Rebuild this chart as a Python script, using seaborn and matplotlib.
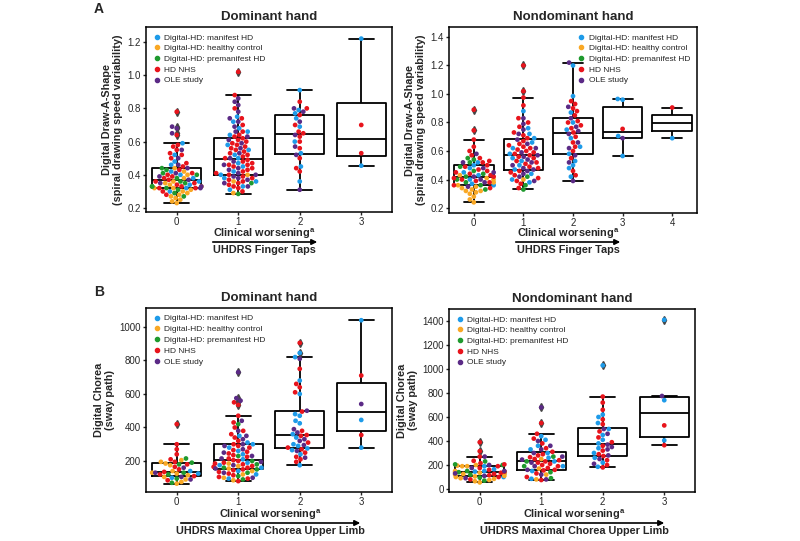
import matplotlib
matplotlib.use('Agg')
import matplotlib.pyplot as plt
from matplotlib.lines import Line2D
import seaborn as sns
import pandas as pd

sns.set_style('ticks')
plt.rcParams['font.family'] = ['Liberation Sans', 'DejaVu Sans']
plt.rcParams['mathtext.fontset'] = 'custom'
plt.rcParams['mathtext.bf'] = 'Liberation Sans:bold'

studies = ['Digital-HD: manifest HD', 'Digital-HD: healthy control',
           'Digital-HD: premanifest HD', 'HD NHS', 'OLE study']
colors = ['#1e9be9', '#f9a825', '#1f9a2e', '#e8141c', '#5b2a86']

# values per study, one list per clinical worsening score (0, 1, 2, ...)
# A: Draw-A-Shape, dominant hand
a_dom = {
    'Digital-HD: manifest HD': [
        [0.30, 0.32, 0.34, 0.36, 0.38, 0.40, 0.42, 0.46, 0.48, 0.52, 0.59],
        [0.31, 0.33, 0.36, 0.38, 0.40, 0.42, 0.45, 0.47, 0.50, 0.52, 0.55, 0.58, 0.64, 0.66, 0.68, 0.72, 0.75],
        [0.36, 0.45, 0.53, 0.60, 0.69, 0.74, 0.77, 0.79, 0.91],
        [1.22, 0.455]],
    'Digital-HD: healthy control': [
        [0.23, 0.24, 0.25, 0.26, 0.27, 0.28, 0.29, 0.30, 0.31, 0.32, 0.32, 0.33, 0.33, 0.34, 0.35, 0.36, 0.38, 0.40, 0.42, 0.44],
        [0.29, 0.36, 0.40], [], []],
    'Digital-HD: premanifest HD': [
        [0.27, 0.29, 0.31, 0.32, 0.33, 0.33, 0.35, 0.36, 0.38, 0.40, 0.41, 0.43, 0.44],
        [0.285, 0.35], [], []],
    'HD NHS': [
        [0.28, 0.30, 0.32, 0.32, 0.33, 0.34, 0.35, 0.36, 0.37, 0.38, 0.39, 0.40, 0.41, 0.43, 0.45, 0.47,
         0.50, 0.52, 0.53, 0.55, 0.57, 0.58, 0.64, 0.78],
        [0.30, 0.32, 0.33, 0.34, 0.35, 0.36, 0.37, 0.38, 0.39, 0.40, 0.41, 0.42, 0.43, 0.44, 0.45, 0.46,
         0.46, 0.47, 0.48, 0.49, 0.50, 0.51, 0.52, 0.53, 0.54, 0.55, 0.56, 0.57, 0.58, 0.59, 0.60, 0.61,
         0.62, 0.63, 0.64, 0.66, 0.70, 0.74, 0.80, 0.88, 1.02],
        [0.42, 0.44, 0.50, 0.56, 0.60, 0.63, 0.65, 0.66, 0.70, 0.76, 0.80, 0.84],
        [0.70, 0.53]],
    'OLE study': [
        [0.32, 0.33, 0.35, 0.37, 0.39, 0.41, 0.44, 0.46, 0.50, 0.55, 0.65, 0.68, 0.69],
        [0.33, 0.35, 0.37, 0.38, 0.39, 0.40, 0.41, 0.43, 0.44, 0.46, 0.48, 0.50, 0.53, 0.56, 0.59, 0.61,
         0.63, 0.66, 0.69, 0.72, 0.74, 0.78, 0.82, 0.84, 0.86],
        [0.31, 0.52, 0.57, 0.64, 0.72, 0.78, 0.80],
        []],
}

# A: Draw-A-Shape, nondominant hand
a_nondom = {
    'Digital-HD: manifest HD': [
        [0.36, 0.37, 0.40, 0.43, 0.45, 0.48, 0.50, 0.52],
        [0.38, 0.40, 0.44, 0.47, 0.50, 0.53, 0.55, 0.58, 0.62, 0.66, 0.69, 0.72, 0.76, 0.88],
        [0.42, 0.48, 0.50, 0.53, 0.58, 0.63, 0.69, 0.75, 0.80, 0.87, 0.985, 1.20],
        [0.965, 0.96, 0.705, 0.565],
        [0.69]],
    'Digital-HD: healthy control': [
        [0.24, 0.26, 0.28, 0.30, 0.31, 0.32, 0.32, 0.33, 0.34, 0.35, 0.36, 0.38, 0.40, 0.41, 0.43],
        [0.40], [], [], []],
    'Digital-HD: premanifest HD': [
        [0.33, 0.36, 0.38, 0.40, 0.42, 0.44, 0.46, 0.49, 0.52, 0.54, 0.55],
        [0.33, 0.36, 0.42], [], [], []],
    'HD NHS': [
        [0.34, 0.36, 0.38, 0.39, 0.40, 0.41, 0.42, 0.43, 0.44, 0.45, 0.46, 0.47, 0.49, 0.50, 0.52, 0.53,
         0.55, 0.57, 0.60, 0.63, 0.68, 0.745, 0.89],
        [0.34, 0.37, 0.39, 0.41, 0.43, 0.45, 0.46, 0.48, 0.49, 0.51, 0.52, 0.53, 0.55, 0.56, 0.57, 0.58,
         0.59, 0.60, 0.61, 0.62, 0.63, 0.64, 0.65, 0.67, 0.69, 0.71, 0.73, 0.77, 0.80, 0.83, 0.92, 0.975,
         1.02, 1.20],
        [0.43, 0.46, 0.55, 0.60, 0.63, 0.66, 0.70, 0.73, 0.76, 0.78, 0.80, 0.81, 0.85, 0.88, 0.90, 0.93, 0.95],
        [0.755],
        [0.905]],
    'OLE study': [
        [0.35, 0.38, 0.40, 0.42, 0.45, 0.48, 0.52, 0.58],
        [0.39, 0.42, 0.44, 0.46, 0.47, 0.48, 0.50, 0.52, 0.54, 0.56, 0.57, 0.59, 0.62, 0.65, 0.68, 0.72,
         0.75, 0.79, 0.83],
        [0.39, 0.52, 0.57, 0.62, 0.66, 0.72, 0.74, 0.77, 0.83, 0.91, 1.22],
        [0.69],
        []],
}

# B: Chorea sway path, dominant hand
b_dom = {
    'Digital-HD: manifest HD': [
        [100, 125, 140],
        [95, 120, 140, 160, 175, 190, 210, 240, 260, 280, 300, 310, 350],
        [175, 240, 265, 275, 290, 300, 360, 340, 425, 440, 470, 480, 600, 680, 820, 845],
        [1040, 445, 280]],
    'Digital-HD: healthy control': [
        [65, 75, 90, 105, 115, 125, 130, 140, 185, 175, 195, 205],
        [85, 100, 120, 140, 155, 170, 185], [], []],
    'Digital-HD: premanifest HD': [
        [70, 95, 120, 130, 190, 180, 215],
        [90, 110, 130, 150, 160, 180, 200, 230, 420], [], []],
    'HD NHS': [
        [85, 110, 120, 135, 150, 165, 180, 195, 210, 240, 270, 300, 420],
        [80, 95, 105, 115, 125, 135, 145, 150, 160, 165, 170, 180, 185, 190, 200, 205, 215, 225, 235,
         245, 255, 265, 280, 290, 300, 320, 340, 360, 380, 400, 430, 470, 535, 550],
        [195, 210, 225, 250, 270, 280, 310, 350, 380, 355, 495, 610, 640, 660, 750, 905],
        [710, 355]],
    'OLE study': [
        [90, 105, 130, 160],
        [100, 130, 155, 175, 195, 215, 230, 250, 270, 290, 300, 330, 350, 380, 440, 560, 575, 730],
        [220, 260, 295, 330, 370, 390, 320, 500, 810],
        [540]],
}

# B: Chorea sway path, nondominant hand
b_nondom = {
    'Digital-HD: manifest HD': [
        [100, 130, 145, 150, 165, 190],
        [85, 150, 190, 230, 260, 300, 330, 360, 410, 440],
        [185, 220, 260, 300, 340, 380, 410, 450, 500, 550, 600, 620, 1030],
        [1410, 740, 405]],
    'Digital-HD: healthy control': [
        [55, 65, 75, 85, 90, 100, 105, 110, 120, 125, 130, 135, 140, 145, 150, 190, 195, 200, 190],
        [80, 120, 170, 250], [], []],
    'Digital-HD: premanifest HD': [
        [70, 95, 120, 140, 150, 205, 200, 230],
        [90, 140, 190, 230, 270], [], []],
    'HD NHS': [
        [80, 100, 115, 125, 135, 145, 160, 175, 190, 205, 215, 235, 270, 315, 390],
        [75, 100, 130, 155, 160, 175, 190, 200, 210, 220, 230, 240, 250, 265, 280, 290, 310, 340, 380,
         420, 460, 550],
        [180, 200, 240, 275, 290, 320, 360, 390, 430, 480, 540, 580, 660, 720, 770],
        [530, 365]],
    'OLE study': [
        [90, 110, 130, 150, 175, 200, 270],
        [80, 120, 160, 190, 220, 245, 270, 300, 330, 360, 400, 680],
        [210, 250, 280, 330, 350, 370, 460, 500],
        [775]],
}

W, H = 800, 541


def fx(x):
    return x / W


def fy(y):
    return 1 - y / H


def draw_panel(ax, data, ngroups, ylim, yticks, ylabel, title, legend_loc, fmt):
    rows = []
    for study in studies:
        for g, vals in enumerate(data[study]):
            for v in vals:
                rows.append((str(g), v, study))
    df = pd.DataFrame(rows, columns=['group', 'value', 'study'])
    order = [str(i) for i in range(ngroups)]

    sns.boxplot(data=df, x='group', y='value', order=order, fill=False, color='black',
                linewidth=1.3, width=0.8, whis=1.5,
                flierprops=dict(marker='d', markersize=3.6, markerfacecolor='#444444',
                                markeredgecolor='#444444'), ax=ax)
    sns.swarmplot(data=df, x='group', y='value', order=order, hue='study', hue_order=studies,
                  palette=colors, size=3.4, linewidth=0, legend=False, ax=ax)

    ax.set_xlim(-0.5, ngroups - 0.5)
    ax.set_ylim(*ylim)
    ax.set_yticks(yticks)
    ax.set_yticklabels([fmt.format(t) for t in yticks])
    ax.set_xlabel('')
    ax.set_ylabel(ylabel, fontsize=7.8, fontweight='bold', labelpad=3)
    ax.set_title(title, fontsize=9.5, fontweight='bold', pad=5)
    ax.tick_params(labelsize=7, width=1, length=2.5, pad=1)
    for sp in ax.spines.values():
        sp.set_visible(True)
        sp.set_linewidth(1.1)
        sp.set_color('black')

    handles = [Line2D([], [], marker='o', ls='', color=c, markersize=3) for c in colors]
    ax.legend(handles, studies, loc=legend_loc, frameon=False, fontsize=6,
              handletextpad=0.4, labelspacing=0.35, handlelength=1, borderaxespad=0.4)


def worsening_label(ax, xc, y_top, x0, x1, y_arrow, y_bot, scale):
    ax.annotate('', xy=(fx(x1), fy(y_arrow)), xytext=(fx(x0), fy(y_arrow)),
                xycoords='figure fraction', textcoords='figure fraction',
                arrowprops=dict(arrowstyle='-|>', color='black', lw=1.2, mutation_scale=8),
                annotation_clip=False)
    fig.text(fx(xc), fy(y_top), r'Clinical worsening$^{\mathbf{a}}$', ha='center', va='center',
             fontsize=7.8, fontweight='bold')
    fig.text(fx(xc), fy(y_bot), scale, ha='center', va='center', fontsize=7.8, fontweight='bold')


fig = plt.figure(figsize=(8, 5.41), dpi=100)
ax1 = fig.add_axes([fx(146), fy(212), (392 - 146) / W, (212 - 27) / H])
ax2 = fig.add_axes([fx(449), fy(213), (697 - 449) / W, (213 - 27) / H])
ax3 = fig.add_axes([fx(146), fy(492), (392 - 146) / W, (492 - 308) / H])
ax4 = fig.add_axes([fx(449), fy(492), (695 - 449) / W, (492 - 309) / H])

das_label = 'Digital Draw-A-Shape\n(spiral drawing speed variability)'
cho_label = 'Digital Chorea\n(sway path)'

draw_panel(ax1, a_dom, 4, (0.176, 1.29), [0.2, 0.4, 0.6, 0.8, 1.0, 1.2], das_label,
           'Dominant hand', 'upper left', '{:.1f}')
draw_panel(ax2, a_nondom, 5, (0.165, 1.47), [0.2, 0.4, 0.6, 0.8, 1.0, 1.2, 1.4], das_label,
           'Nondominant hand', 'upper right', '{:.1f}')
draw_panel(ax3, b_dom, 4, (15, 1113), [200, 400, 600, 800, 1000], cho_label,
           'Dominant hand', 'upper left', '{:.0f}')
draw_panel(ax4, b_nondom, 4, (-25, 1500), [0, 200, 400, 600, 800, 1000, 1200, 1400], cho_label,
           'Nondominant hand', 'upper left', '{:.0f}')

worsening_label(ax1, 264, 234, 210, 320, 242, 250, 'UHDRS Finger Taps')
worsening_label(ax2, 568, 234, 513, 623, 242, 250, 'UHDRS Finger Taps')
worsening_label(ax3, 270, 515, 178, 363, 523, 531, 'UHDRS Maximal Chorea Upper Limb')
worsening_label(ax4, 574, 515, 482, 667, 523, 531, 'UHDRS Maximal Chorea Upper Limb')

fig.text(fx(99), fy(9), 'A', ha='center', va='center', fontsize=10, fontweight='bold')
fig.text(fx(99), fy(292), 'B', ha='center', va='center', fontsize=10, fontweight='bold')

fig.savefig('out.png', dpi=100, facecolor='white')
